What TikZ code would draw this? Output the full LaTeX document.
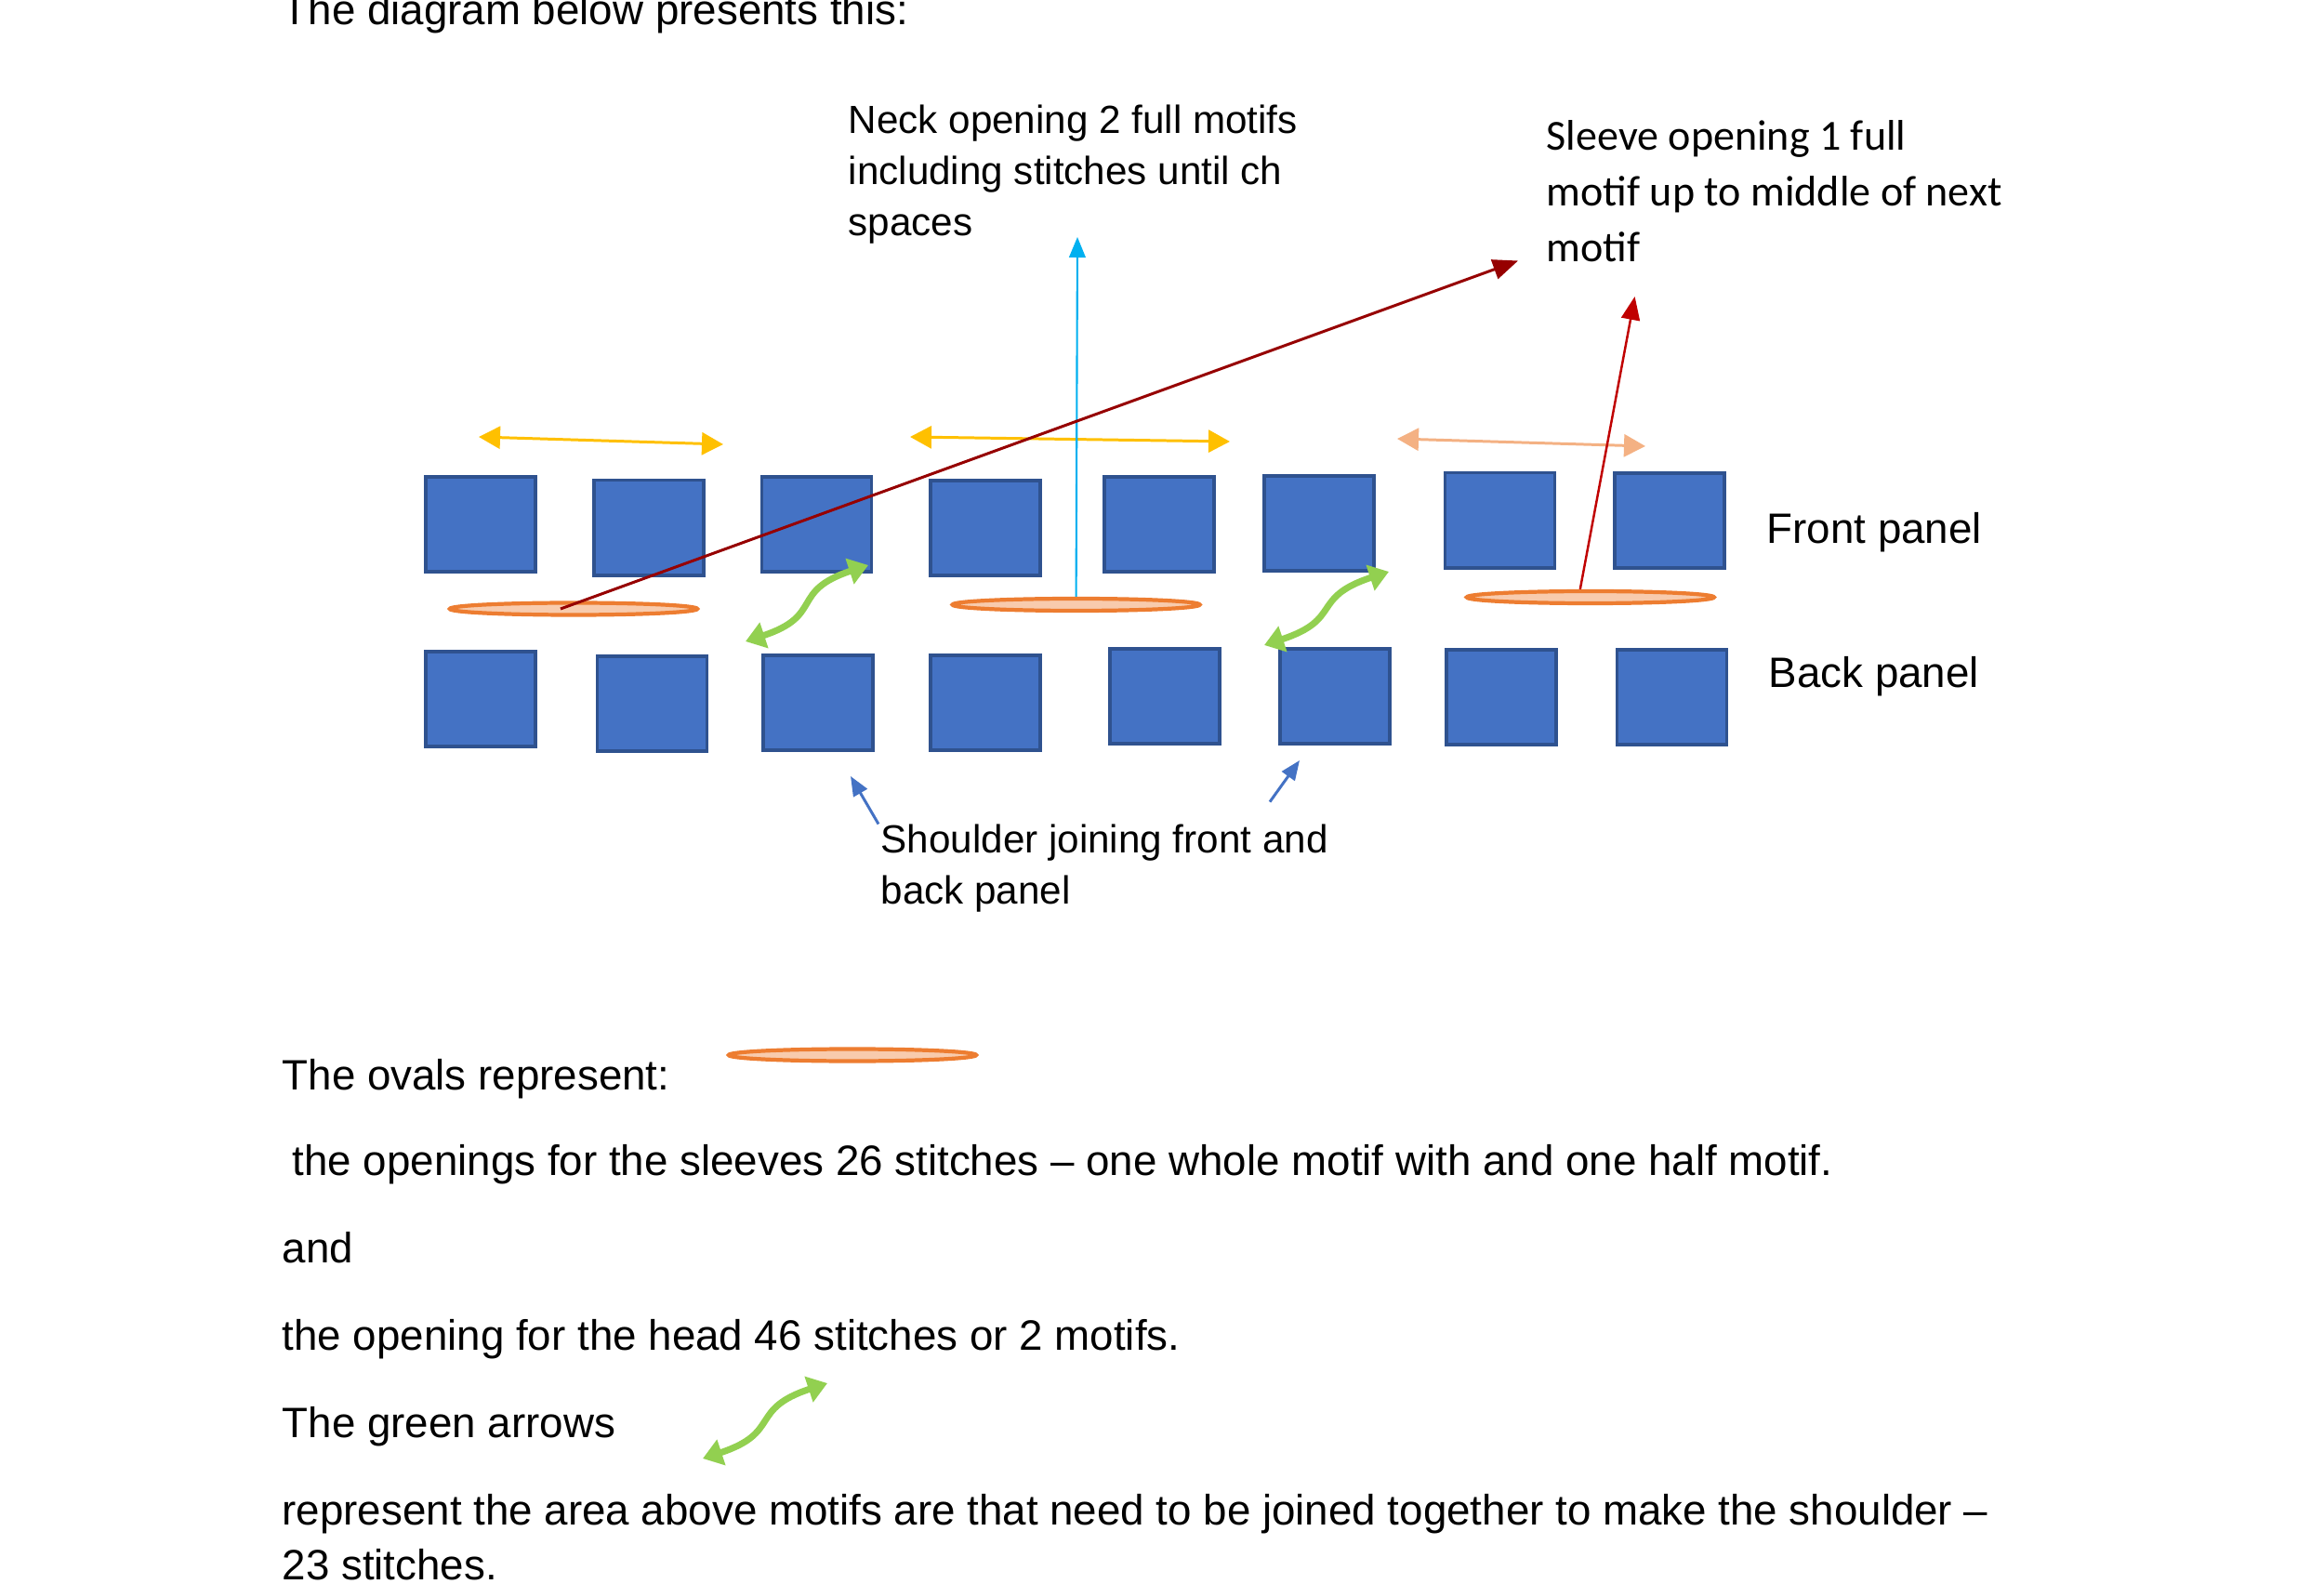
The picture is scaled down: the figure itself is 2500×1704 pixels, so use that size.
\documentclass[tikz,border=0pt]{standalone}
\usepackage{fontspec}
\setmainfont{Liberation Sans}
\newfontfamily\calibrifont{Carlito}
\usetikzlibrary{arrows.meta,shapes.geometric}
\definecolor{motif}{RGB}{68,114,196}
\definecolor{motifedge}{RGB}{47,82,143}
\definecolor{ovalfill}{RGB}{248,203,173}
\definecolor{ovaledge}{RGB}{237,125,49}
\definecolor{gold}{RGB}{255,192,0}
\definecolor{peach}{RGB}{244,177,131}
\definecolor{sky}{RGB}{0,176,240}
\definecolor{wine}{RGB}{150,0,0}
\definecolor{crimson}{RGB}{192,0,0}
\definecolor{lime}{RGB}{146,208,80}
\tikzset{
  motifbox/.style={draw=motifedge,fill=motif,line width=1.1pt,minimum width=11.8mm,
    minimum height=10.2mm,inner sep=0pt},
  oval/.style={ellipse,draw=ovaledge,fill=ovalfill,line width=1.2pt,minimum width=26.6mm,
    minimum height=1.3mm,inner sep=0pt},
  span/.style={{Triangle[length=2.3mm,width=2.4mm]}-{Triangle[length=2.3mm,width=2.4mm]},
    line width=0.85pt,draw=#1},
  span/.default=gold,
  callout/.style={-{Triangle[length=#1,width=0.8*#1]}},
  callout/.default=2.2mm,
  joinarrow/.style={{Triangle[length=2.1mm,width=2.8mm]}-{Triangle[length=2.1mm,width=2.8mm]},
    line width=2pt,draw=lime},
  body/.style={anchor=base west,inner sep=0pt,font=\fontsize{13}{16.8}\selectfont,align=left},
  note/.style={anchor=base west,inner sep=0pt,font=\fontsize{12}{15.6}\selectfont,align=left},
}
\begin{document}
\begin{tikzpicture}[x=0.01cm,y=-0.01cm]
  \useasboundingbox (0,0) rectangle (2500,1704);
  \node[body] (intro) at (303,27) {The diagram below presents this:};
  % motifs, front and back
  \foreach \x/\y [count=\i] in {516.6/564.4,698.3/567.6,878.5/564.4,1060.3/568.4,
      1246.8/564.4,1419/562.8,1613.5/559.6,1796.1/560.4}
    \node[motifbox] (f\i) at (\x,\y) {};
  \foreach \x/\y [count=\i] in {516.6/751.8,701.5/757.3,880.1/755.7,1060.3/755.7,
      1253.2/749.4,1435.8/748.6,1615.1/750.2,1798.5/750.2}
    \node[motifbox] (b\i) at (\x,\y) {};
  \node[body] (front) at (1900,585) {Front panel};
  \node[body] (back) at (1902,740) {Back panel};
  % openings
  \node[oval] (sleevel) at (617,655) {};
  \node[oval] (neck) at (1157.6,650.5) {};
  \node[oval] (sleever) at (1710.8,642.5) {};
  % widths over the motifs
  \coordinate (w1a) at (515,470); \coordinate (w1b) at (778,478);
  \coordinate (w2a) at (979,470); \coordinate (w2b) at (1323,475);
  \coordinate (w3a) at (1503,472); \coordinate (w3b) at (1770,480);
  \draw[span] (w1a) -- (w1b);
  \draw[span] (w2a) -- (w2b);
  \draw[span=peach] (w3a) -- (w3b);
  % labels (base = last line)
  \node[note] (necklabel) at (912,253.5) {Neck opening 2 full motifs\\including stitches until ch\\spaces};
  \node[body,font=\calibrifont\fontsize{13.1}{17.2}\selectfont] (sleevelabel) at (1663,282)
    {Sleeve opening 1 full\\motif up to middle of next\\motif};
  \coordinate (necktip) at (1159,255);
  \coordinate (sleevetip) at (1633,280.5);
  \coordinate (sleevetip2) at (1758.6,319);
  \draw[callout=2.2mm,draw=sky,line width=0.6pt] (neck.north) -- (necktip);
  \draw[callout=2.7mm,draw=wine,line width=0.85pt] ([xshift=-1.4mm]sleevel.center) -- (sleevetip);
  \draw[callout=2.5mm,draw=crimson,line width=0.7pt] ([xshift=-1.1mm]sleever.north) -- (sleevetip2);
  % shoulders
  \coordinate (j1a) at (802,690); \coordinate (j1b) at (934,608);
  \coordinate (j2a) at (1360,694); \coordinate (j2b) at (1494,615);
  \draw[joinarrow] (j1a) .. controls +(85,-28) and +(-85,28) .. (j1b);
  \draw[joinarrow] (j2a) .. controls +(85,-28) and +(-85,28) .. (j2b);
  \node[note] (shoulder) at (947,972.6) {Shoulder joining front and\\back panel};
  \coordinate (pl) at (915,835);
  \coordinate (pr) at (1398,818);
  \coordinate (prfoot) at (1366,862.6);
  \draw[callout=2.1mm,draw=motif,line width=0.85pt] ([xshift=-0.2mm]shoulder.north west) -- (pl);
  \draw[callout=2.1mm,draw=motif,line width=0.85pt] (prfoot) -- (pr);
  % explanation
  \node[body] (ovaltext) at (303,1172) {The ovals represent:};
  \node[oval] (ovalkey) at (917,1135) {};
  \node[body] (sleevetext) at (314,1264) {the openings for the sleeves 26 stitches -- one whole motif with and one half motif.};
  \node[body] (andtext) at (303,1358) {and};
  \node[body] (headtext) at (303,1452.5) {the opening for the head 46 stitches or 2 motifs.};
  \node[body] (greentext) at (303,1546.6) {The green arrows};
  \coordinate (k1a) at (756,1569); \coordinate (k1b) at (890,1488);
  \draw[joinarrow] (k1a) .. controls +(85,-28) and +(-85,28) .. (k1b);
  \node[body] (shouldertext) at (303,1699.6) {represent the area above motifs are that need to be joined together to make the shoulder --\\23 stitches.};
\end{tikzpicture}
\end{document}
